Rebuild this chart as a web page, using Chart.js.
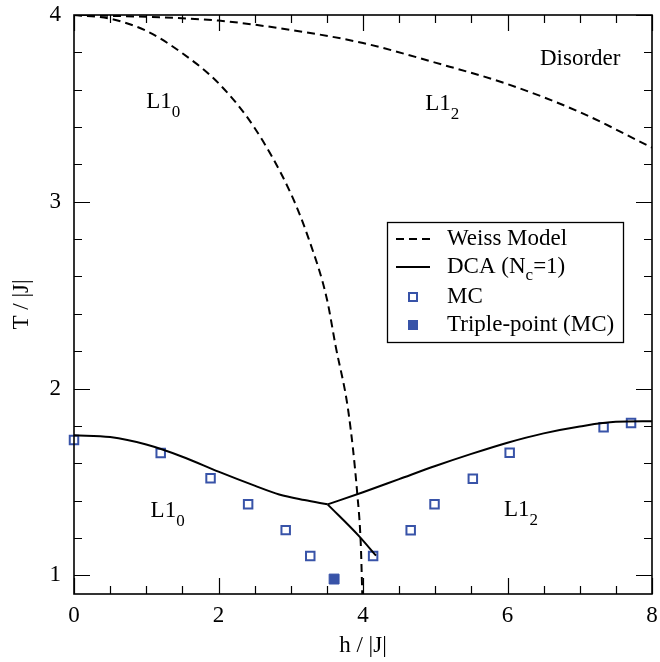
<!DOCTYPE html>
<html>
<head>
<meta charset="utf-8">
<title>Phase diagram</title>
<script src="https://cdn.jsdelivr.net/npm/chart.js@4.4.1/dist/chart.umd.min.js"></script>
<style>
  html, body { margin: 0; padding: 0; background: #fff; }
  #wrap { width: 660px; height: 662px; position: relative; }
</style>
</head>
<body>
<div id="wrap"><canvas id="phase"></canvas></div>
<script>
// Weiss (mean field) boundaries
const weissL10H = [0, 0.5, 1.0, 1.5, 2.0, 2.5, 3.0, 3.25, 3.5, 3.62, 3.8, 3.92, 3.97, 3.99];
const weissL10T = [4.0, 3.98, 3.915, 3.795, 3.635, 3.395, 3.045, 2.80, 2.48, 2.23, 1.87, 1.44, 1.16, 0.9];
const weissL12H = [0, 1, 2, 3, 4, 5, 6, 7, 8];
const weissL12T = [4.0, 3.99, 3.97, 3.92, 3.85, 3.745, 3.63, 3.48, 3.29];

// DCA (Nc=1) boundaries, three branches meeting at the kink
const dcaL10H = [0, 0.5, 1.0, 1.5, 2.0, 2.5, 2.84, 3.19, 3.51];
const dcaL10T = [1.75, 1.74, 1.70, 1.635, 1.555, 1.48, 1.433, 1.403, 1.38];
const dcaL12H = [3.51, 4.0, 4.5, 5.0, 5.5, 6.0, 6.5, 7.0, 7.5, 8.0];
const dcaL12T = [1.38, 1.445, 1.515, 1.585, 1.65, 1.71, 1.76, 1.797, 1.822, 1.825];
const dcaSplitH = [3.51, 3.945, 4.18];
const dcaSplitT = [1.38, 1.21, 1.105];

// Monte Carlo transition points
const mcH = [0, 1.2, 1.89, 2.41, 2.93, 3.27, 4.14, 4.66, 4.99, 5.52, 6.03, 7.33, 7.71];
const mcT = [1.725, 1.655, 1.52, 1.38, 1.242, 1.103, 1.103, 1.241, 1.38, 1.517, 1.656, 1.793, 1.816];
const tripleH = [3.60];
const tripleT = [0.98];

// axis ticks
const xTickValues = [0, 2, 4, 6, 8];
const yTickValues = [1, 2, 3, 4];

// phase names ("_" marks a subscript)
const phaseNames = ['L1_0', 'L1_2', 'Disorder', 'L1_0', 'L1_2'];
const phaseH = [1.0, 4.86, 6.45, 1.06, 5.95];
const phaseT = [3.5, 3.49, 3.73, 1.31, 1.315];

const SERIF = '"Liberation Serif", "Times New Roman", "DejaVu Serif", serif';
const BLUE = '#3853a8';
const FONT_SIZE = 23;

const toPoints = (hs, ts) => hs.map((h, i) => ({ x: h, y: ts[i] }));

function lineSet(label, hs, ts, dashed, legend) {
  return {
    label: label,
    data: toPoints(hs, ts),
    showLine: true,
    borderColor: '#000',
    borderWidth: 2,
    borderDash: dashed ? [8, 5] : [],
    pointRadius: 0,
    cubicInterpolationMode: 'monotone',
    legendEntry: legend
  };
}

// draws text where "_x" becomes a lowered, smaller character
function drawRich(ctx, text, x, y, size) {
  const parts = text.split('_');
  let cx = x;
  parts.forEach((part, i) => {
    if (i > 0) {
      const sub = part.charAt(0);
      ctx.font = Math.round(size * 0.72) + 'px ' + SERIF;
      ctx.fillText(sub, cx, y + size * 0.38);
      cx += ctx.measureText(sub).width;
      part = part.slice(1);
    }
    ctx.font = size + 'px ' + SERIF;
    ctx.fillText(part, cx, y);
    cx += ctx.measureText(part).width;
  });
}

// closed frame with inward major and minor ticks on all four sides
const frameTicks = {
  id: 'frameTicks',
  afterDatasetsDraw(chart) {
    const { ctx, chartArea: a, scales: { x, y } } = chart;
    ctx.save();
    ctx.strokeStyle = '#000';
    ctx.lineWidth = 1.2;
    ctx.beginPath();
    for (let v = 0; v <= 8.001; v += 0.5) {
      const px = Math.round(x.getPixelForValue(v)) + 0.5;
      const len = xTickValues.includes(v) ? 16 : 8;
      ctx.moveTo(px, a.bottom); ctx.lineTo(px, a.bottom - len);
      ctx.moveTo(px, a.top); ctx.lineTo(px, a.top + len);
    }
    for (let k = 5; k <= 20; k++) {
      const v = k / 5;
      const py = Math.round(y.getPixelForValue(v)) + 0.5;
      const len = yTickValues.includes(v) ? 16 : 8;
      ctx.moveTo(a.left, py); ctx.lineTo(a.left + len, py);
      ctx.moveTo(a.right, py); ctx.lineTo(a.right - len, py);
    }
    ctx.stroke();
    ctx.lineWidth = 1.6;
    ctx.strokeRect(a.left, a.top, a.right - a.left, a.bottom - a.top);

    // phase names
    ctx.fillStyle = '#000';
    ctx.textBaseline = 'alphabetic';
    ctx.textAlign = 'left';
    phaseNames.forEach((name, i) => {
      drawRich(ctx, name, x.getPixelForValue(phaseH[i]), y.getPixelForValue(phaseT[i]), FONT_SIZE);
    });
    ctx.restore();
  }
};

// boxed legend inside the plot area
const boxLegend = {
  id: 'boxLegend',
  afterDraw(chart) {
    const { ctx, chartArea: a } = chart;
    const left = a.left + 313, top = a.top + 207, w = 236, h = 120;
    ctx.save();
    ctx.fillStyle = '#fff';
    ctx.fillRect(left, top, w, h);
    ctx.strokeStyle = '#000';
    ctx.lineWidth = 1.3;
    ctx.strokeRect(left + 0.5, top + 0.5, w, h);

    const rows = [17, 45, 75, 103];
    const entries = chart.data.datasets.filter(ds => ds.legendEntry);
    entries.forEach((ds, i) => {
      const cy = top + rows[i];
      if (ds.showLine) {
        ctx.strokeStyle = ds.borderColor;
        ctx.lineWidth = ds.borderWidth;
        ctx.setLineDash(ds.borderDash);
        ctx.beginPath();
        ctx.moveTo(left + 9, cy);
        ctx.lineTo(left + 43, cy);
        ctx.stroke();
        ctx.setLineDash([]);
      } else if (ds.backgroundColor === '#fff') {
        ctx.strokeStyle = ds.borderColor;
        ctx.lineWidth = 2;
        ctx.strokeRect(left + 22, cy - 4, 8, 8);
      } else {
        ctx.fillStyle = ds.backgroundColor;
        ctx.fillRect(left + 21, cy - 5, 10, 10);
      }
      ctx.fillStyle = '#000';
      ctx.textBaseline = 'middle';
      drawRich(ctx, ds.label, left + 60, cy, FONT_SIZE);
    });
    ctx.restore();
  }
};

Chart.defaults.font.family = SERIF;
Chart.defaults.font.size = FONT_SIZE;
Chart.defaults.color = '#000';

new Chart(document.getElementById('phase'), {
  type: 'scatter',
  data: {
    datasets: [
      lineSet('Weiss Model', weissL10H, weissL10T, true, true),
      lineSet('Weiss Model', weissL12H, weissL12T, true, false),
      lineSet('DCA (N_c=1)', dcaL10H, dcaL10T, false, true),
      lineSet('DCA (N_c=1)', dcaL12H, dcaL12T, false, false),
      lineSet('DCA (N_c=1)', dcaSplitH, dcaSplitT, false, false),
      {
        label: 'MC',
        data: toPoints(mcH, mcT),
        pointStyle: 'rect',
        pointRadius: 6,
        borderWidth: 2,
        borderColor: BLUE,
        backgroundColor: '#fff',
        clip: false,
        legendEntry: true
      },
      {
        label: 'Triple-point (MC)',
        data: toPoints(tripleH, tripleT),
        pointStyle: 'rect',
        pointRadius: 7,
        borderWidth: 1,
        borderColor: BLUE,
        backgroundColor: BLUE,
        clip: false,
        legendEntry: true
      }
    ]
  },
  options: {
    responsive: true,
    maintainAspectRatio: false,
    animation: false,
    layout: { padding: { top: 15, right: 6, left: 0, bottom: 0 } },
    plugins: { legend: { display: false }, tooltip: { enabled: false } },
    scales: {
      x: {
        type: 'linear',
        min: 0,
        max: 8,
        grid: { display: false },
        border: { display: false },
        afterBuildTicks: scale => { scale.ticks = xTickValues.map(v => ({ value: v })); },
        afterFit: scale => {
          scale.height = 68;
          scale.paddingLeft = 0;
          scale.paddingRight = 0;
        },
        ticks: { padding: 0, maxRotation: 0 },
        title: { display: true, text: 'h / |J|', padding: { top: 0, bottom: 2 } }
      },
      y: {
        type: 'linear',
        min: 0.9,
        max: 4,
        grid: { display: false },
        border: { display: false },
        afterBuildTicks: scale => { scale.ticks = yTickValues.map(v => ({ value: v })); },
        afterFit: scale => {
          scale.width = 74;
          scale.paddingTop = 0;
          scale.paddingBottom = 0;
        },
        ticks: { padding: 5 },
        title: { display: true, text: 'T / |J|', padding: { top: 8, bottom: 0 } }
      }
    }
  },
  plugins: [frameTicks, boxLegend]
});
</script>
</body>
</html>
